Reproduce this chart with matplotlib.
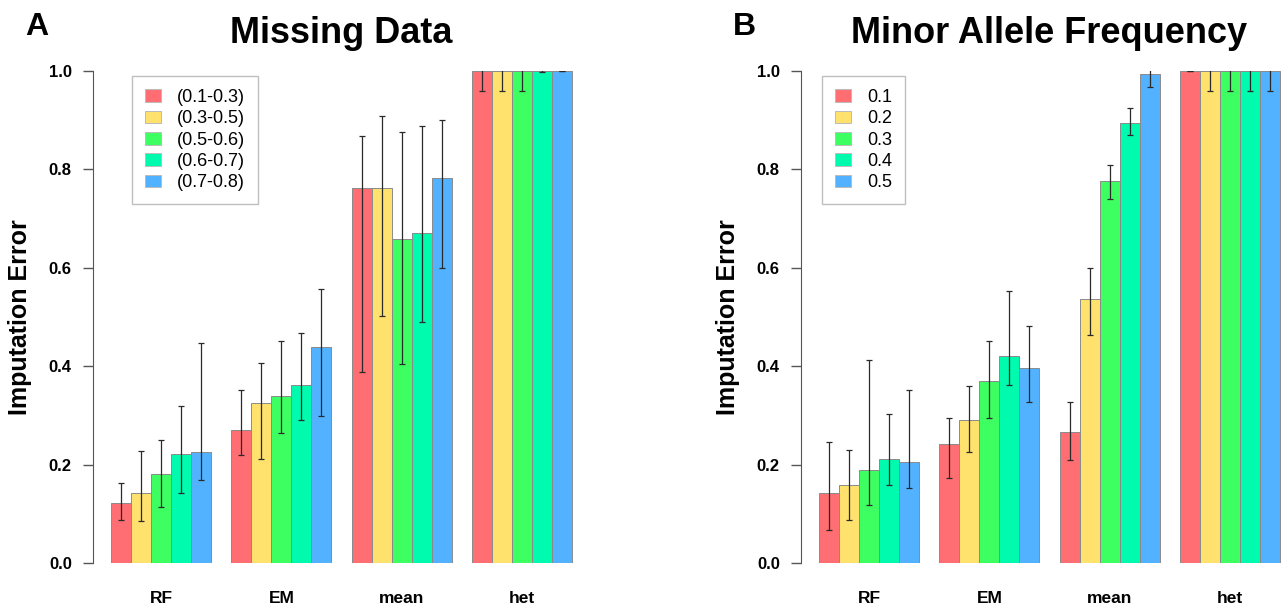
import numpy as np
import matplotlib
matplotlib.use("Agg")
import matplotlib.pyplot as plt
from matplotlib.patches import Rectangle
from matplotlib.legend_handler import HandlerPatch

plt.rcParams['font.family'] = ['Liberation Sans', 'DejaVu Sans']

# ---- data ----
methods = ['RF', 'EM', 'mean', 'het']

missing_labels = ['(0.1-0.3)', '(0.3-0.5)', '(0.5-0.6)', '(0.6-0.7)', '(0.7-0.8)']
# rows = missing-data class, columns = method
missing_vals = np.array([
    [0.121, 0.270, 0.763, 1.0],
    [0.143, 0.326, 0.763, 1.0],
    [0.180, 0.339, 0.659, 1.0],
    [0.221, 0.361, 0.671, 1.0],
    [0.226, 0.439, 0.783, 1.0],
])
missing_lo = np.array([
    [0.088, 0.219, 0.389, 0.960],
    [0.086, 0.211, 0.503, 0.960],
    [0.113, 0.264, 0.405, 0.960],
    [0.143, 0.290, 0.490, 0.997],
    [0.168, 0.299, 0.600, 0.999],
])
missing_hi = np.array([
    [0.163, 0.351, 0.868, 1.040],
    [0.227, 0.406, 0.908, 1.040],
    [0.249, 0.452, 0.877, 1.040],
    [0.319, 0.467, 0.889, 1.003],
    [0.447, 0.557, 0.900, 1.001],
])

maf_labels = ['0.1', '0.2', '0.3', '0.4', '0.5']
maf_vals = np.array([
    [0.142, 0.241, 0.266, 1.0],
    [0.158, 0.291, 0.536, 1.0],
    [0.190, 0.370, 0.777, 1.0],
    [0.211, 0.420, 0.895, 1.0],
    [0.206, 0.397, 0.993, 1.0],
])
maf_lo = np.array([
    [0.067, 0.173, 0.210, 0.999],
    [0.088, 0.225, 0.463, 0.960],
    [0.118, 0.294, 0.739, 0.960],
    [0.159, 0.361, 0.869, 0.960],
    [0.152, 0.327, 0.967, 0.960],
])
maf_hi = np.array([
    [0.246, 0.294, 0.327, 1.001],
    [0.230, 0.360, 0.600, 1.040],
    [0.412, 0.451, 0.808, 1.040],
    [0.302, 0.552, 0.925, 1.040],
    [0.351, 0.481, 1.019, 1.040],
])

colors = ['#FF6E72', '#FFE26E', '#3EFF62', '#00FAAE', '#52B2FF']

W, H = 1285, 611
fig = plt.figure(figsize=(W / 100, H / 100), dpi=100)


# small square key shifted right inside its slot (R-style legend)
def key_patch(legend, orig_handle, xdescent, ydescent, width, height, fontsize):
    return Rectangle((-xdescent + width - 13, -ydescent + 0.5 * height - 5.5),
                     13, 11)


def panel(left_px, vals, lo, hi, labels, title, letter, letter_x, leg_x):
    ax = fig.add_axes([left_px / W, 1 - 563 / H, 497.8 / W, 492 / H])
    n_series, n_groups = vals.shape
    for j in range(n_series):
        x = np.arange(n_groups) * (n_series + 1) + 1.5 + j
        ax.bar(x, vals[j], width=1.0, color=colors[j], edgecolor='#8a8a8a',
               linewidth=0.7, label=labels[j])
        ax.errorbar(x, vals[j], yerr=[vals[j] - lo[j], hi[j] - vals[j]],
                    fmt='none', ecolor='#2a2a2a', elinewidth=0.9,
                    capsize=2.2, capthick=0.9)
    ax.set_xlim(0.08, 24.92)
    ax.set_ylim(0, 1)
    centers = np.arange(n_groups) * (n_series + 1) + 1 + n_series / 2
    ax.set_xticks(centers)
    ax.set_xticklabels(methods, fontsize=12.5, fontweight='bold')
    ax.tick_params(axis='x', length=0, pad=20)
    ax.set_yticks(np.arange(0, 1.01, 0.2))
    ax.set_yticklabels(['%.1f' % v for v in np.arange(0, 1.01, 0.2)],
                       fontsize=12, fontweight='bold')
    ax.tick_params(axis='y', length=7, width=1, color='#555555', pad=8)
    for s in ['top', 'right', 'bottom']:
        ax.spines[s].set_visible(False)
    ax.spines['left'].set_color('#555555')
    ax.set_ylabel('Imputation Error', fontsize=18, fontweight='bold', labelpad=12)
    ax.set_title(title, fontsize=26, fontweight='bold', pad=20)
    fig.text(letter_x / W, 1 - 35 / H, letter, fontsize=23, fontweight='bold',
             ha='left', va='baseline')
    leg = ax.legend(loc='upper left', bbox_to_anchor=(leg_x / W, 1 - 76 / H),
                    bbox_transform=fig.transFigure, fontsize=13,
                    frameon=True, fancybox=False, edgecolor='#b0b0b0',
                    borderaxespad=0, handlelength=0.89, handleheight=0.7,
                    labelspacing=0.24, handletextpad=0.89, borderpad=0.72,
                    handler_map={Rectangle: HandlerPatch(patch_func=key_patch)})
    leg.get_frame().set_linewidth(1.0)
    for p in leg.get_patches():
        p.set_edgecolor('#bbbbbb')
    return ax


panel(92.6, missing_vals, missing_lo, missing_hi, missing_labels,
      'Missing Data', 'A', 25, 132)
panel(800.6, maf_vals, maf_lo, maf_hi, maf_labels,
      'Minor Allele Frequency', 'B', 733, 822)

fig.savefig('out.png', dpi=100)
